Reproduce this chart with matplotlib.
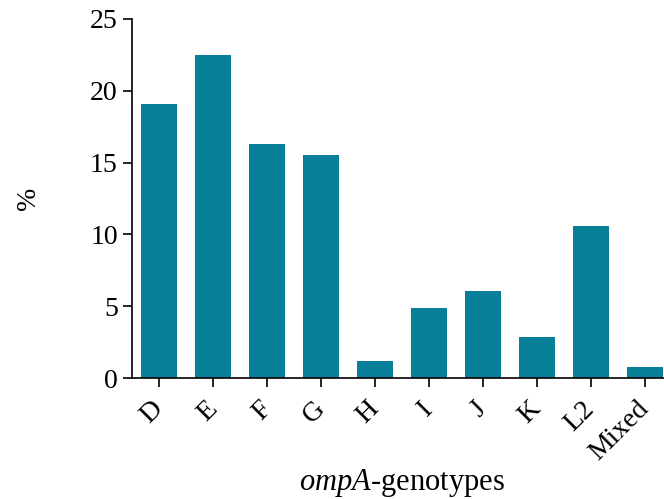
import matplotlib.pyplot as plt
import numpy as np

plt.rcParams['font.family'] = ['Liberation Serif', 'DejaVu Serif']
plt.rcParams['mathtext.fontset'] = 'custom'
plt.rcParams['mathtext.it'] = 'Liberation Serif:italic'
plt.rcParams['mathtext.rm'] = 'Liberation Serif'

genotypes = ['D', 'E', 'F', 'G', 'H', 'I', 'J', 'K', 'L2', 'Mixed']
percent = [19.1, 22.5, 16.3, 15.5, 1.2, 4.9, 6.1, 2.9, 10.6, 0.8]
yticks = [0, 5, 10, 15, 20, 25]

fig = plt.figure(figsize=(6.64, 4.99), dpi=100)
ax = fig.add_axes([0.1993, 0.2419, 0.8124, 0.7206])

x = np.arange(len(genotypes))
ax.bar(x, percent, width=0.667, color='#087f98')

ax.set_xlim(-0.5, 9.5)
ax.set_ylim(0, 25)
ax.set_yticks(yticks)
ax.set_xticks(x)
ax.set_xticklabels(genotypes, rotation=45, ha='right', va='center',
                   rotation_mode='anchor')

ax.spines['top'].set_visible(False)
ax.spines['right'].set_visible(False)
ax.spines['left'].set_linewidth(1.2)
ax.spines['bottom'].set_linewidth(1.2)
ax.tick_params(axis='both', direction='out', length=6.5, width=1.2,
               labelsize=20)
ax.tick_params(axis='y', pad=4)
ax.tick_params(axis='x', pad=13)

ax.set_ylabel('%', fontsize=20, va='center')
ax.yaxis.set_label_coords(-0.193, 0.5)
ax.set_xlabel('$\\mathit{ompA}$-genotypes', fontsize=22, va='center')
ax.xaxis.set_label_coords(0.5, -0.29)

fig.savefig('out.png', dpi=100)
